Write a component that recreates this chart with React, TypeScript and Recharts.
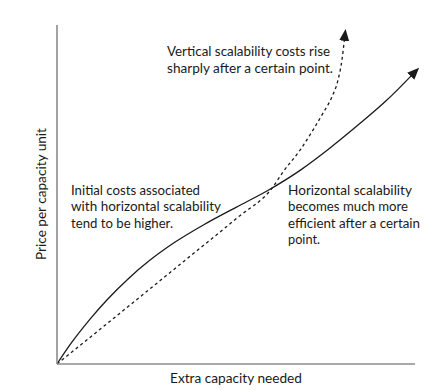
import { LineChart, Line, XAxis, YAxis } from "recharts";

// horizontal scalability (solid curve)
const horizontalX = [0, 4, 9, 14, 20, 26, 33, 41, 50, 59, 68, 76, 84, 92, 99.2];
const horizontalY = [0, 6.2, 12.95, 18.95, 25.25, 30.65, 35.97, 41.09, 46.22, 51.26, 57.2, 63.5, 70.4, 77.7, 85.3];

// vertical scalability (dashed curve)
const verticalX = [0, 17.6, 35.2, 50.3, 60.3, 63.1, 67.9, 71.5, 74.3, 76.8, 78.5, 79.6, 80.3];
const verticalY = [0, 15.0, 30.1, 43.1, 52.2, 56.6, 63.1, 69.0, 74.0, 78.8, 83.8, 89.7, 95.9];

const verticalNote = ["Vertical scalability costs rise", "sharply after a certain point."];
const initialNote = ["Initial costs associated", "with horizontal scalability", "tend to be higher."];
const horizontalNote = ["Horizontal scalability", "becomes much more", "efficient after a certain", "point."];

const horizontal = horizontalX.map((x, i) => ({ x, y: horizontalY[i] }));
const vertical = verticalX.map((x, i) => ({ x, y: verticalY[i] }));

const FONT = "Lato, 'DejaVu Sans', sans-serif";
const INK = "#1a1a1a";
const AXIS = { stroke: "#8c8c8c", strokeWidth: 1.6 };

function Note({
  x,
  y,
  lines,
  widths,
}: {
  x: number;
  y: number;
  lines: string[];
  widths: number[];
}) {
  return (
    <g fontFamily={FONT} fontSize={13.5} fill={INK}>
      {lines.map((l, i) => (
        <text
          key={i}
          x={x}
          y={y + i * 16.5}
          textLength={widths[i]}
          lengthAdjust="spacingAndGlyphs"
        >
          {l}
        </text>
      ))}
    </g>
  );
}

export default function App() {
  return (
    <div style={{ position: "absolute", left: 0, top: 0, background: "#fff" }}>
      <LineChart
        width={439}
        height={390}
        margin={{ top: 25, right: 24, bottom: 0, left: 0 }}
      >
        <defs>
          <marker
            id="arrowHead"
            viewBox="0 0 12 10"
            refX={2}
            refY={5}
            markerWidth={12}
            markerHeight={10}
            markerUnits="userSpaceOnUse"
            orient="auto"
          >
            <path d="M0,0 L12,5 L0,10 z" fill={INK} />
          </marker>
        </defs>
        <XAxis
          type="number"
          dataKey="x"
          domain={[0, 100]}
          height={26}
          tick={false}
          tickLine={false}
          axisLine={AXIS}
        />
        <YAxis
          type="number"
          domain={[0, 100]}
          width={57}
          tick={false}
          tickLine={false}
          axisLine={AXIS}
        />
        <Line
          data={vertical}
          dataKey="y"
          type="monotone"
          stroke={INK}
          strokeWidth={1.3}
          strokeDasharray="3 3"
          dot={false}
          isAnimationActive={false}
          markerEnd="url(#arrowHead)"
        />
        <Line
          data={horizontal}
          dataKey="y"
          type="monotone"
          stroke={INK}
          strokeWidth={1.3}
          dot={false}
          isAnimationActive={false}
          markerEnd="url(#arrowHead)"
        />
        <Note x={167} y={56} lines={verticalNote} widths={[163, 166]} />
        <Note x={71} y={194.5} lines={initialNote} widths={[129, 150, 102]} />
        <Note x={288} y={194.5} lines={horizontalNote} widths={[124, 120, 132, 32]} />
        <text
          x={236}
          y={383}
          textAnchor="middle"
          fontFamily={FONT}
          fontSize={13.5}
          fill={INK}
          textLength={132}
          lengthAdjust="spacingAndGlyphs"
        >
          Extra capacity needed
        </text>
        <text
          x={46}
          y={194}
          transform="rotate(-90 46 194)"
          textAnchor="middle"
          fontFamily={FONT}
          fontSize={13.5}
          fill={INK}
          textLength={132}
          lengthAdjust="spacingAndGlyphs"
        >
          Price per capacity unit
        </text>
      </LineChart>
    </div>
  );
}
